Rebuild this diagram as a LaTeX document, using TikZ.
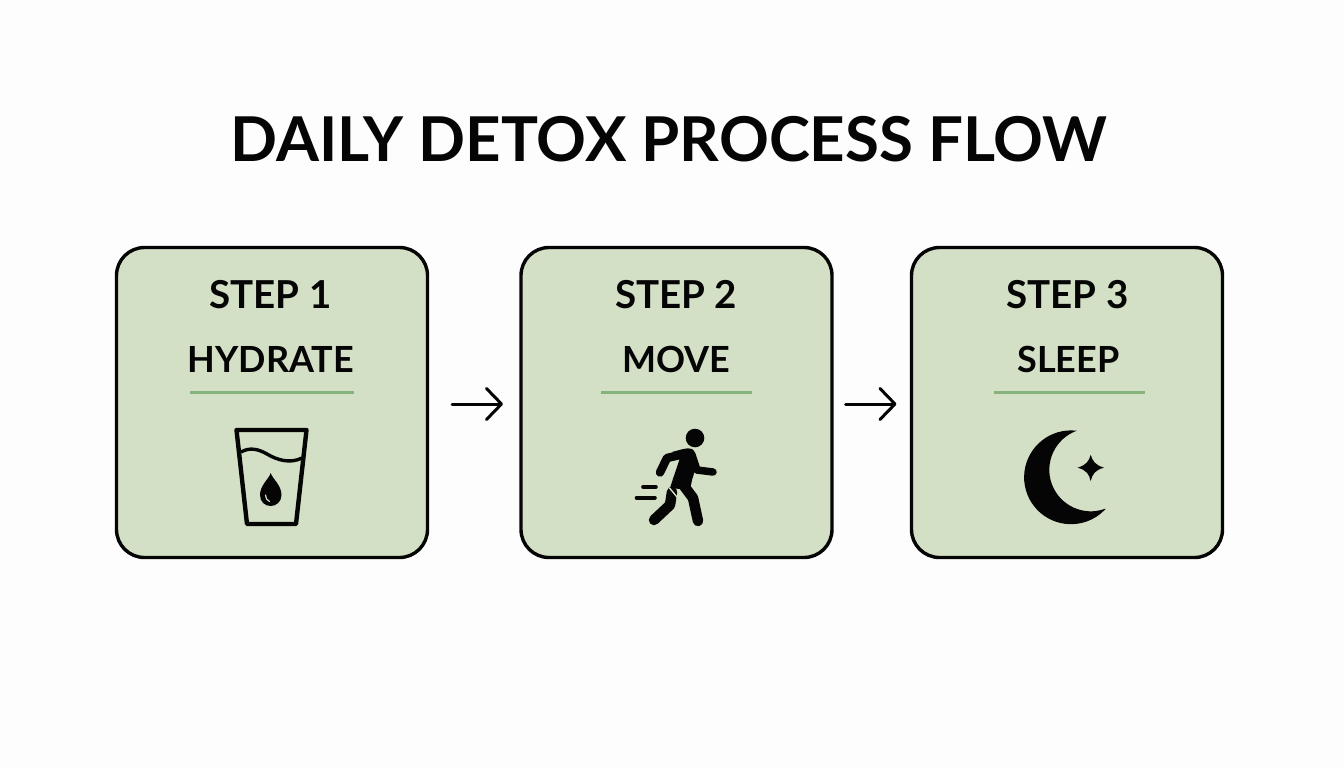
\documentclass[tikz,border=0pt]{standalone}
\usepackage{fontspec}
\setmainfont{Lato}
\usetikzlibrary{arrows.meta}
\definecolor{bg}{HTML}{FDFDFD}
\definecolor{boxfill}{HTML}{D3E0C6}
\definecolor{rulegreen}{HTML}{86B27C}
\definecolor{ink}{HTML}{050505}
\tikzset{
  x=1pt,y=-1pt,
  stepbox/.style={draw=ink,line width=3.4pt,fill=boxfill,rounded corners=28pt,minimum width=311pt,minimum height=310pt,inner sep=0pt,outer sep=0pt},
  titletext/.style={anchor=base,font=\bfseries\fontsize{61.8}{62}\selectfont,text=ink,inner sep=0pt},
  steptext/.style={anchor=base,font=\bfseries\fontsize{38.5}{39}\selectfont,text=ink,inner sep=0pt},
  nametext/.style={anchor=base,font=\bfseries\fontsize{36}{36}\selectfont,text=ink,inner sep=0pt},
  flowarrow/.style={draw=ink,line width=3pt,line cap=round,-{Straight Barb[length=15pt,width=31pt,line width=3pt,round]}},
  underrule/.style={draw=rulegreen,line width=3pt},
  iconline/.style={draw=ink,line width=4.4pt,line join=round},
  limb/.style={draw=ink,line width=10.5pt,line cap=round,line join=round},
}
\begin{document}
\begin{tikzpicture}
\useasboundingbox (0,0) rectangle (1344,768);
\fill[bg] (0,0) rectangle (1344,768);
\node[titletext] (title) at (669,161) {DAILY DETOX PROCESS FLOW};
\node[stepbox] (b1) at (272,402.5) {};
\node[stepbox] (b2) at (676.5,402.5) {};
\node[stepbox] (b3) at (1067,402.5) {};
\draw[flowarrow,shorten <=24.5pt,shorten >=18pt] ([yshift=-1.5pt]b1.east) -- ([yshift=-1.5pt]b2.west);
\draw[flowarrow,shorten <=13.5pt,shorten >=15pt] ([yshift=-1.5pt]b2.east) -- ([yshift=-1.5pt]b3.west);
\node[steptext] (s1) at (270.5,308) {STEP 1};
\node[steptext] (s2) at (676,308) {STEP 2};
\node[steptext] (s3) at (1067.5,308) {STEP 3};
\node[nametext] (n1) at (271,372.5) {HYDRATE};
\node[nametext] (n2) at (676,372.5) {MOVE};
\node[nametext] (n3) at (1068.5,372.5) {SLEEP};
\coordinate (r1a) at (190,392); \coordinate (r1b) at (354,392);
\coordinate (r2a) at (601,392); \coordinate (r2b) at (752,392);
\coordinate (r3a) at (994,392); \coordinate (r3b) at (1145,392);
\draw[underrule] (r1a) -- (r1b);
\draw[underrule] (r2a) -- (r2b);
\draw[underrule] (r3a) -- (r3b);
% glass
\draw[iconline] (236.5,430) -- (306.5,430) -- (296,524) -- (247,524) -- cycle;
\draw[draw=ink,line width=3.4pt] (241,452) .. controls (250,447) and (258,449) .. (267,454) .. controls (277,460) and (290,464) .. (302,458);
\fill[ink] (270.7,473) .. controls (272.5,479) and (281.5,485) .. (281.5,495) .. controls (281.5,502) and (276,506) .. (270.7,506) .. controls (265,506) and (260,502) .. (260,495) .. controls (260,485) and (269,479) .. (270.7,473) -- cycle;
\draw[draw=boxfill,line width=1.2pt,line cap=round] (265.5,495) .. controls (265.5,498) and (267,500.5) .. (269.5,501.5);
% runner
\fill[ink] (695,438) circle (9.3);
\fill[ink] (672,452) .. controls (680,450) and (688,447) .. (692,449) .. controls (697,452) and (698,462) .. (692,480) -- (690,490) -- (670,488) .. controls (674,475) and (679,462) .. (680,457) -- cycle;
\draw[limb,line width=8.5pt] (680,455) -- (667,458) -- (660,472.5);
\draw[limb,line width=7.5pt] (692,455) -- (697,470) -- (713,472);
\draw[limb] (684,486) -- (693,498) -- (698,521);
\draw[limb] (672,492) -- (670,505) -- (654,520);
\draw[draw=boxfill,line width=1.4pt] (669.5,488) -- (677,497) -- (680,503);
\draw[draw=ink,line width=3.6pt,line cap=round] (643,486.7) -- (656,486.7);
\draw[draw=ink,line width=3.6pt,line cap=round] (636.5,497.7) -- (655,497.7);
% moon
\begin{scope}[shift={(1071,477.3)},y=1pt]
\fill[ink] (83:46.9) arc[start angle=83,end angle=317.6,radius=46.9] -- (34,-31.5) arc[start angle=290,end angle=110,radius=41.5] -- cycle;
\end{scope}
% star
\fill[ink] (1090.7,454.7) .. controls (1092.5,461) and (1095,465) .. (1104,467.7) .. controls (1095,470) and (1092.5,474) .. (1090.7,481) .. controls (1089,474) and (1086.5,470) .. (1077.5,467.7) .. controls (1086.5,465) and (1089,461) .. (1090.7,454.7) -- cycle;
\end{tikzpicture}
\end{document}
